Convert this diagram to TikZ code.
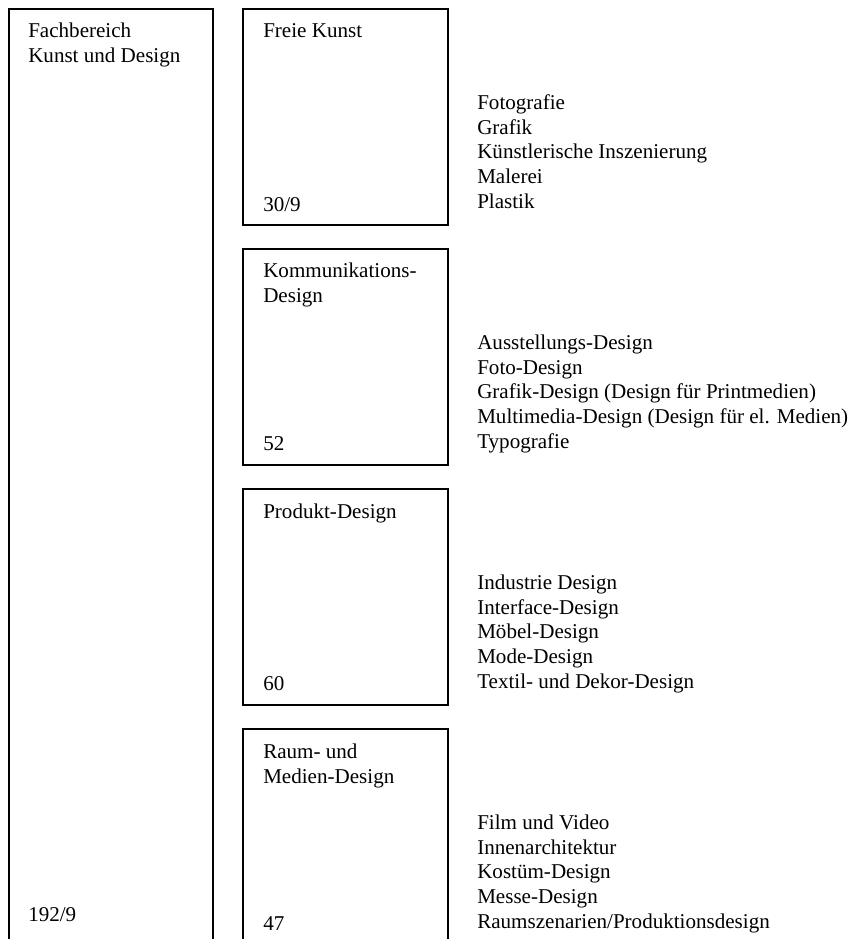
\documentclass[tikz,border=0pt]{standalone}
\usepackage{fontspec}
\setmainfont{Liberation Serif}
\begin{document}
\begin{tikzpicture}[x=0.75pt,y=-0.75pt,
  every node/.style={font=\fontsize{15.8}{18.4}\selectfont},
  frame/.style={draw=black, line width=1.5pt, rectangle, inner sep=0pt, anchor=north west},
  bigframe/.style={frame, minimum width=153pt, minimum height=720pt},
  subframe/.style={frame, minimum width=153.75pt, minimum height=162pt},
  lbl/.style={anchor=base west, inner sep=0pt, align=left}]
\useasboundingbox (0,0) rectangle (862,939);
\clip (0,0) rectangle (862,939);
\fill[white] (0,0) rectangle (862,939);
% frames
\node[bigframe] (fb) at (8,8) {};
\node[subframe] (b1) at (242,8) {};
\node[subframe] (b2) at (242,248) {};
\node[subframe] (b3) at (242,488) {};
\node[subframe] (b4) at (242,728) {};
% left column (base = last line)
\node[lbl] (fbt) at (28,62.5) {Fachbereich\\Kunst und Design};
\node[lbl] (fbn) at (28,921.7) {192/9};
% box titles
\node[lbl] (t1) at (263,37.7) {Freie Kunst};
\node[lbl] (t2) at (263,302) {Kommunikations-\\Design};
\node[lbl] (t3) at (263,518) {Produkt-Design};
\node[lbl] (t4) at (263,783) {Raum- und\\Medien-Design};
% numbers
\node[lbl] (n1) at (263,211.5) {30/9};
\node[lbl] (n2) at (263,450) {52};
\node[lbl] (n3) at (263,690) {60};
\node[lbl] (n4) at (263,930) {47};
% lists (base = last line)
\node[lbl] (l1) at (477,208) {Fotografie\\Grafik\\Künstlerische Inszenierung\\Malerei\\Plastik};
\node[lbl] (l2) at (477,448) {Ausstellungs-Design\\Foto-Design\\Grafik-Design (Design für Printmedien)\\Multimedia-Design (Design für el. Medien)\\Typografie};
\node[lbl] (l3) at (477,688) {Industrie Design\\Interface-Design\\Möbel-Design\\Mode-Design\\Textil- und Dekor-Design};
\node[lbl] (l4) at (477,928) {Film und Video\\Innenarchitektur\\Kostüm-Design\\Messe-Design\\Raumszenarien/Produktionsdesign};
\end{tikzpicture}
\end{document}
